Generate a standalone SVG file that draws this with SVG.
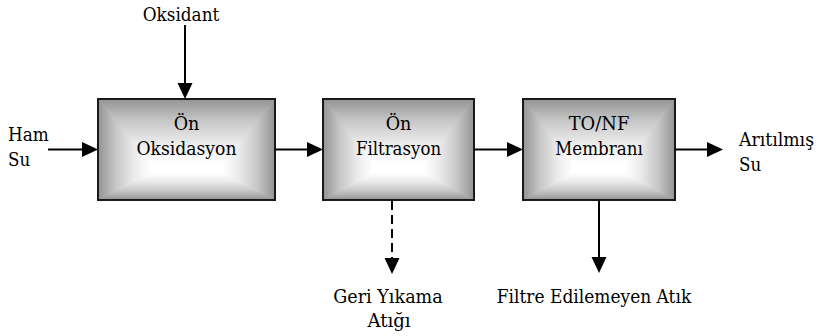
<svg xmlns="http://www.w3.org/2000/svg" width="819" height="336" viewBox="0 0 819 336">
<style>
.t{font-family:"DejaVu Serif","Liberation Serif","Times New Roman",serif;font-size:19px;fill:#000}
.m{text-anchor:middle}
.c{stroke:#000;stroke-width:2;fill:none}
.d{stroke-dasharray:9,5}
.b{fill:none;stroke:#1a1a1a;stroke-width:2}
.pT{fill:url(#gT);stroke:url(#gT);stroke-width:1}
.pB{fill:url(#gB);stroke:url(#gB);stroke-width:1}
.pL{fill:url(#gL);stroke:url(#gL);stroke-width:1}
.pR{fill:url(#gR);stroke:url(#gR);stroke-width:1}
</style>
<defs>
<linearGradient id="gT" x1="0" y1="0" x2="0" y2="1"><stop offset="0" stop-color="#939393"/><stop offset="0.3" stop-color="#c6c6c6"/><stop offset="0.62" stop-color="#ebebeb"/><stop offset="0.9" stop-color="#ffffff"/></linearGradient>
<linearGradient id="gB" x1="0" y1="1" x2="0" y2="0"><stop offset="0" stop-color="#939393"/><stop offset="0.3" stop-color="#c6c6c6"/><stop offset="0.62" stop-color="#ebebeb"/><stop offset="0.9" stop-color="#ffffff"/></linearGradient>
<linearGradient id="gL" x1="0" y1="0" x2="1" y2="0"><stop offset="0" stop-color="#939393"/><stop offset="0.3" stop-color="#c6c6c6"/><stop offset="0.62" stop-color="#ebebeb"/><stop offset="0.9" stop-color="#ffffff"/></linearGradient>
<linearGradient id="gR" x1="1" y1="0" x2="0" y2="0"><stop offset="0" stop-color="#939393"/><stop offset="0.3" stop-color="#c6c6c6"/><stop offset="0.62" stop-color="#ebebeb"/><stop offset="0.9" stop-color="#ffffff"/></linearGradient>
<marker id="ah" markerUnits="userSpaceOnUse" markerWidth="16" markerHeight="16" refX="0" refY="7.5" orient="auto" viewBox="0 0 16 15">
<path d="M0,0 L16,7.5 L0,15 Z" fill="#000"/>
</marker>
</defs>

<g id="n1">
<polygon class="pT" points="98,99 275,99 216.5,170 156.5,170"/>
<polygon class="pB" points="98,200 156.5,170 216.5,170 275,200"/>
<polygon class="pL" points="98,99 156.5,170 98,200"/>
<polygon class="pR" points="275,99 216.5,170 275,200"/>
<rect x="98" y="99" width="177" height="101" class="b"/>
<text class="t m" x="186.5" y="130" textLength="25.7" lengthAdjust="spacingAndGlyphs">Ön</text>
<text class="t m" x="186.5" y="155" textLength="100" lengthAdjust="spacingAndGlyphs">Oksidasyon</text>
</g>

<g id="n2">
<polygon class="pT" points="323,99 474,99 418.5,170 378.5,170"/>
<polygon class="pB" points="323,200 378.5,170 418.5,170 474,200"/>
<polygon class="pL" points="323,99 378.5,170 323,200"/>
<polygon class="pR" points="474,99 418.5,170 474,200"/>
<rect x="323" y="99" width="151" height="101" class="b"/>
<text class="t m" x="398.5" y="130" textLength="25.7" lengthAdjust="spacingAndGlyphs">Ön</text>
<text class="t m" x="398.5" y="155" textLength="85.2" lengthAdjust="spacingAndGlyphs">Filtrasyon</text>
</g>

<g id="n3">
<polygon class="pT" points="523,99 675,99 619.5,170 578.5,170"/>
<polygon class="pB" points="523,200 578.5,170 619.5,170 675,200"/>
<polygon class="pL" points="523,99 578.5,170 523,200"/>
<polygon class="pR" points="675,99 619.5,170 675,200"/>
<rect x="523" y="99" width="152" height="101" class="b"/>
<text class="t m" x="599" y="130" textLength="60.7" lengthAdjust="spacingAndGlyphs">TO/NF</text>
<text class="t m" x="599" y="155" textLength="87.5" lengthAdjust="spacingAndGlyphs">Membranı</text>
</g>

<g id="labels">
<text class="t m" x="181" y="21" textLength="76.5" lengthAdjust="spacingAndGlyphs">Oksidant</text>
<text class="t" x="8" y="141" textLength="40.8" lengthAdjust="spacingAndGlyphs">Ham</text>
<text class="t" x="8" y="166" textLength="22.2" lengthAdjust="spacingAndGlyphs">Su</text>
<text class="t" x="739" y="146" textLength="75" lengthAdjust="spacingAndGlyphs">Arıtılmış</text>
<text class="t" x="739" y="171" textLength="22.2" lengthAdjust="spacingAndGlyphs">Su</text>
<text class="t m" x="388" y="303" textLength="109.5" lengthAdjust="spacingAndGlyphs">Geri Yıkama</text>
<text class="t m" x="389" y="327" textLength="43.2" lengthAdjust="spacingAndGlyphs">Atığı</text>
<text class="t m" x="594" y="303" textLength="194.5" lengthAdjust="spacingAndGlyphs">Filtre Edilemeyen Atık</text>
</g>

<g id="connectors">
<line class="c" x1="185" y1="25" x2="185" y2="83" marker-end="url(#ah)"/>
<line class="c" x1="48" y1="149.5" x2="82" y2="149.5" marker-end="url(#ah)"/>
<line class="c" x1="275" y1="149.5" x2="307" y2="149.5" marker-end="url(#ah)"/>
<line class="c" x1="474" y1="149.5" x2="507" y2="149.5" marker-end="url(#ah)"/>
<line class="c" x1="675" y1="149.5" x2="707" y2="149.5" marker-end="url(#ah)"/>
<line class="c d" x1="392" y1="201" x2="392" y2="258" marker-end="url(#ah)"/>
<line class="c" x1="599" y1="201" x2="599" y2="257" marker-end="url(#ah)"/>
</g>
</svg>
